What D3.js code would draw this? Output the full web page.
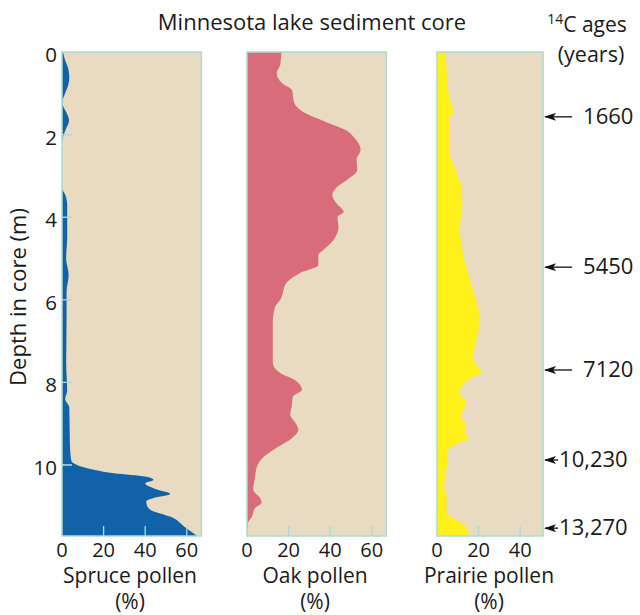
<!DOCTYPE html>
<html><head><meta charset="utf-8">
<script src="https://cdn.jsdelivr.net/npm/d3@7"></script>
<style>
html,body{margin:0;padding:0;background:#fff;}
svg text{font-family:"Open Sans",Lato,sans-serif;fill:#1a1a1a;}
</style></head>
<body>
<svg id="chart" width="640" height="615"></svg>
<script>
// ---- data ----
const depthTicks = [0, 2, 4, 6, 8, 10];
const spruceDepth = [0,0.2,0.4,0.6,0.8,1.0,1.2,1.3,1.45,1.65,1.85,2.05,2.2,3.3,3.45,3.7,4.5,5.0,5.4,5.8,6.5,7.5,8.2,8.4,8.6,9.5,9.9,10.05,10.2,10.28,10.36,10.45,10.6,10.7,10.8,10.88,11.0,11.1,11.25,11.5,11.72];
const spruceValue = [0.5,1.5,3,3.5,3,1.5,0.3,0.5,2,3.4,2,0.5,0,0,1.5,2.5,2.5,2,3.2,2.2,2.2,2.0,2.5,1.5,3.5,3.8,4.5,10,25,40,44,40,46,52,44,40.5,41,43,52,59,65];
const oakDepth = [0,0.3,0.51,0.75,0.92,1.23,1.45,1.65,1.77,1.89,2.06,2.37,2.61,2.86,3.1,3.27,3.46,3.66,3.87,4.0,4.24,4.55,4.79,4.92,5.16,5.35,5.59,6.0,6.17,6.56,7.53,7.77,7.94,8.18,8.35,8.55,8.79,8.96,9.15,9.35,9.56,9.81,10.05,10.29,10.6,10.8,10.92,11.04,11.26,11.4,11.72];
const oakValue = [16.5,16,14.3,16.8,21.6,22.7,27,36,41.6,47.4,51.3,54.6,52.7,53,48,43.3,41,43,46.5,43.5,44,41.6,36.8,34.3,34.3,25.6,19,16,13.5,12.4,12.4,16,23,26.4,22,21.6,20.8,23,24.7,21.6,15,7.9,4.7,3.9,3,6.3,7,3.9,2.3,0.5,0];
const prairieDepth = [0,0.92,1.28,1.45,1.57,1.96,2.45,2.69,3.03,3.27,3.75,4.24,4.87,5.35,5.76,6.17,6.56,6.97,7.38,7.58,7.75,7.89,8.06,8.26,8.5,8.72,8.86,9.03,9.23,9.35,9.47,9.64,9.95,10.36,10.48,10.77,11.16,11.33,11.5,11.72];
const prairieValue = [4.3,5.4,7,7.8,5.9,6.2,6.2,7.8,10.2,11.7,12.2,11,12.5,14.9,17.3,19.7,20.5,18.9,17.6,18.9,21.7,16.5,12.5,11,14.1,12.2,11.7,14.1,13.3,15.7,10.2,5.4,4.9,3.8,3.3,4.6,4.6,9.4,14.1,15.4];
const panelNames = ["Spruce pollen", "Oak pollen", "Prairie pollen"];
const panelMax = [67, 67, 51];
const panelTicks = [[0,20,40,60],[0,20,40,60],[0,20,40]];
const panelColors = ["#1262aa", "#d86c7b", "#fff01a"];
const ageLabels = ["1660", "5450", "7120", "10,230", "13,270"];
const ageDepths = [1.57, 5.21, 7.70, 9.88, 11.53];

// ---- layout ----
const svg = d3.select("#chart");
const yTop = 52, yBottom = 536;
const y = d3.scaleLinear().domain([0, 11.72]).range([yTop, yBottom]);
const pxPerPct = 2.08;
const panelLeft = [62, 247, 437];
const beige = "#e8dbc1", border = "#a9dcd6";

const series = [
  spruceDepth.map((d,i)=>({d, v: spruceValue[i]})),
  oakDepth.map((d,i)=>({d, v: oakValue[i]})),
  prairieDepth.map((d,i)=>({d, v: prairieValue[i]}))
];

svg.append("defs").append("marker")
  .attr("id","arrow").attr("viewBox","0 0 12 8").attr("refX",11).attr("refY",4)
  .attr("markerWidth",12).attr("markerHeight",8).attr("markerUnits","userSpaceOnUse")
  .attr("orient","auto")
  .append("path").attr("d","M12,4 L0,0 L3,4 L0,8 Z").attr("fill","#111");

panelNames.forEach((name, i) => {
  const x0 = panelLeft[i];
  const x = d3.scaleLinear().domain([0, panelMax[i]]).range([x0, x0 + panelMax[i]*pxPerPct]);
  const g = svg.append("g");
  g.append("rect").attr("x", x(0)).attr("y", yTop).attr("width", x(panelMax[i]) - x(0))
    .attr("height", yBottom - yTop).attr("fill", beige);
  const area = d3.area().curve(d3.curveMonotoneY)
    .y(d => y(d.d)).x0(x(0)).x1(d => x(d.v));
  g.append("path").datum(series[i]).attr("d", area).attr("fill", panelColors[i]);
  g.selectAll("line.bt").data(panelTicks[i].slice(1)).enter().append("line")
    .attr("x1", d => x(d)).attr("x2", d => x(d))
    .attr("y1", yBottom).attr("y2", yBottom - 10)
    .attr("stroke", border).attr("stroke-width", 1.3);
  g.append("rect").attr("x", x(0)).attr("y", yTop).attr("width", x(panelMax[i]) - x(0))
    .attr("height", yBottom - yTop).attr("fill", "none").attr("stroke", border).attr("stroke-width", 1.5);
  g.selectAll("text.tl").data(panelTicks[i]).enter().append("text")
    .attr("x", d => x(d)).attr("y", 557).attr("text-anchor", "middle")
    .attr("font-size", 20).text(d => d);
  const cx = i === 2 ? x0 + 52 : x0 + 68;
  g.append("text").attr("x", cx).attr("y", 583).attr("text-anchor","middle")
    .attr("font-size", 21).text(name);
  g.append("text").attr("x", cx).attr("y", 609).attr("text-anchor","middle")
    .attr("font-size", 21).text("(%)");
  if (i === 0) {
    g.selectAll("line.yt").data(depthTicks.slice(1)).enter().append("line")
      .attr("x1", x(0)).attr("x2", x(0) + 10)
      .attr("y1", d => y(d)).attr("y2", d => y(d))
      .attr("stroke", d => d === 10 ? "#dfe9f2" : border).attr("stroke-width", 1.3);
    g.selectAll("text.yl").data(depthTicks).enter().append("text")
      .attr("x", 57).attr("y", d => y(d) + 10).attr("text-anchor","end")
      .attr("font-size", 20.5).text(d => d);
  }
  if (i === 2) {
    const xr = x(panelMax[i]);
    ageLabels.forEach((lab, k) => {
      const yy = y(ageDepths[k]);
      const long = lab.length <= 4;
      svg.append("line").attr("x1", xr + (long ? 29 : 15)).attr("x2", xr + 2)
        .attr("y1", yy).attr("y2", yy).attr("stroke", "#111").attr("stroke-width", 1.3)
        .attr("marker-end", "url(#arrow)");
      svg.append("text").attr("x", xr + (long ? 40 : 16)).attr("y", yy + 7)
        .attr("font-size", 22).text(lab);
    });
  }
});

svg.append("text").attr("x", 312).attr("y", 30).attr("text-anchor","middle")
  .attr("font-size", 22).text("Minnesota lake sediment core");
const ct = svg.append("text").attr("x", 587).attr("y", 32).attr("text-anchor","middle").attr("font-size", 21);
ct.append("tspan").attr("font-size", 14).attr("dy", -8).text("14");
ct.append("tspan").attr("dy", 8).text("C ages");
svg.append("text").attr("x", 591).attr("y", 62).attr("text-anchor","middle")
  .attr("font-size", 21.5).text("(years)");
svg.append("text").attr("transform", "translate(26,297) rotate(-90)")
  .attr("text-anchor","middle").attr("font-size", 22).text("Depth in core (m)");
</script>
</body></html>
